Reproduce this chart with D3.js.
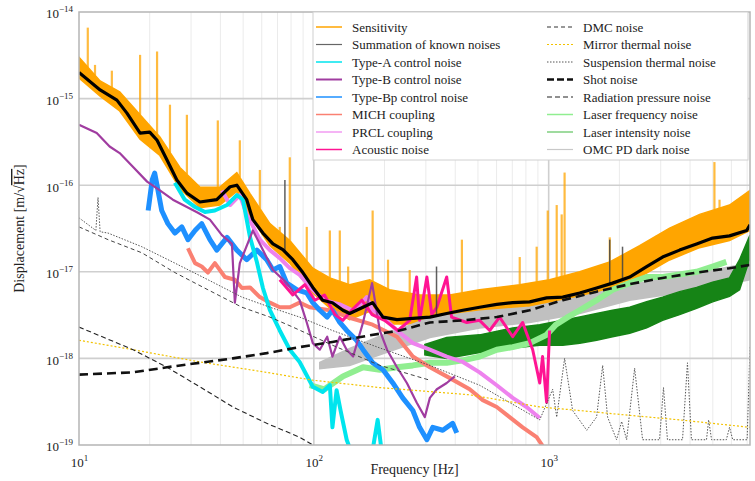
<!DOCTYPE html>
<html>
<head>
<meta charset="utf-8">
<title>displacement noise budget</title>
<script src="https://d3js.org/d3.v7.min.js"></script>
<style>
  body { margin: 0; background: #fff; }
  text { font-family: "Liberation Serif", "DejaVu Serif", serif; fill: #222; }
</style>
</head>
<body>
<script>
// ---- data: [frequency Hz, displacement m/rtHz] ----
var sensitivityBand = [ // [f, lower edge, upper edge]
  [10, 1.73e-15, 3.0e-15], [12.3, 1.07e-15, 1.6e-15], [14.9, 7.2e-16, 1.2e-15],
  [18.2, 3.4e-16, 6.5e-16], [22.1, 2.2e-16, 3.6e-16], [26.9, 9.1e-17, 1.6e-16],
  [32.7, 5.5e-17, 9.5e-17], [39.8, 5.9e-17, 9.5e-17], [47, 8.5e-17, 1.4e-16],
  [53.5, 4.4e-17, 8.0e-17], [65, 2.0e-17, 3.6e-17], [79, 1.26e-17, 2.3e-17],
  [99, 5.7e-18, 1.1e-17], [117, 3.8e-18, 8.5e-18], [142, 2.8e-18, 7.1e-18],
  [173, 3.5e-18, 8.1e-18], [210, 2.5e-18, 6.2e-18], [282, 2.5e-18, 5.4e-18],
  [379, 2.8e-18, 5.4e-18], [508, 3.3e-18, 6.2e-18], [753, 3.7e-18, 7.1e-18],
  [1009, 4.3e-18, 8.1e-18], [1355, 4.9e-18, 1.0e-17], [1820, 6.5e-18, 1.3e-17],
  [2440, 8.7e-18, 2.0e-17], [3273, 1.37e-17, 3.2e-17], [4394, 1.9e-17, 4.6e-17],
  [5890, 2.3e-17, 5.9e-17], [7200, 3.0e-17, 8.7e-17]
];
var sensitivitySpikes = [
  [10.9, 6.6e-15], [11.7, 2.45e-15], [13.8, 2.1e-15], [18.2, 3.2e-15], [21.5, 3.5e-15],
  [24.4, 8.5e-16], [28.8, 6.5e-16], [39, 5.6e-16], [48.4, 3.3e-16], [58.9, 1.5e-16],
  [71.6, 3.3e-17], [79, 2.1e-16], [93.3, 3.3e-17], [117, 3.0e-17], [129, 3.0e-17],
  [140, 1.15e-17], [178, 5.1e-17], [207, 1.38e-17], [256, 1.05e-17], [427, 2.35e-17],
  [753, 1.48e-17], [889, 1.95e-17], [991, 5.1e-17], [1082, 5.9e-17], [1136, 4.6e-17],
  [1169, 1.4e-16], [1820, 2.5e-17], [2884, 2.35e-17], [5080, 1.85e-16], [5340, 6.8e-17]
];
var summation = [
  [10, 2.0e-15], [12.3, 1.26e-15], [14.5, 9.6e-16], [16, 6.8e-16], [18.2, 4.0e-16],
  [20, 4.1e-16], [21.5, 3.3e-16], [23.7, 1.95e-16], [26.1, 1.15e-16], [28.8, 8.1e-17],
  [32.7, 6.4e-17], [38.6, 6.8e-17], [44, 9.6e-17], [47, 1.0e-16], [51.8, 6.8e-17],
  [55, 4.0e-17], [60.7, 2.8e-17], [67, 2.1e-17], [73.8, 1.8e-17], [81.4, 1.38e-17],
  [89.8, 9.8e-18], [99, 6.6e-18], [109, 4.7e-18], [120, 4.4e-18], [133, 3.6e-18],
  [142, 3.3e-18], [162, 3.9e-18], [178, 4.4e-18], [197, 3.0e-18], [226, 2.8e-18],
  [264, 2.9e-18], [312, 3.0e-18], [368, 3.3e-18], [431, 3.6e-18], [508, 3.9e-18],
  [601, 4.2e-18], [703, 4.4e-18], [830, 4.5e-18], [980, 5.0e-18], [1148, 5.1e-18],
  [1356, 5.7e-18], [1600, 6.5e-18], [1871, 7.4e-18], [2213, 8.7e-18], [2613, 1.15e-17],
  [3055, 1.48e-17], [3610, 1.78e-17], [4265, 2.1e-17], [4990, 2.45e-17], [5890, 2.6e-17],
  [6970, 3.0e-17], [7200, 3.5e-17]
];
var summationSpikes = [[75.3, 1.15e-16], [333, 1.15e-17], [1820, 2.35e-17], [2063, 1.95e-17]];
var typeA = [
  [25.6, 1.07e-16], [28.2, 6.8e-17], [31.2, 5.6e-17], [34.4, 4.9e-17], [37.9, 5.1e-17],
  [42.7, 5.9e-17], [47, 7.7e-17], [49.9, 6.8e-17], [53.5, 2.5e-17], [57.2, 1.3e-17],
  [60.7, 6.5e-18], [65, 3.6e-18], [71.6, 2.1e-18], [79, 1.26e-18], [87, 9.1e-19],
  [99, 4.7e-19], [109, 4.1e-19], [117, 4.9e-19], [120, 1.6e-19], [125, 4.3e-19],
  [130, 2.5e-19], [138, 1.15e-19], [145, 8e-20], [177, 8e-20], [187, 1.95e-19], [195, 8e-20]
];
var typeB = [
  [10, 5.0e-16], [11.9, 4.0e-16], [13.5, 2.8e-16], [14.9, 2.35e-16], [17, 1.62e-16],
  [19.5, 1.1e-16], [22.1, 8.7e-17], [25.1, 6.8e-17], [28.8, 5.6e-17], [32.1, 4.8e-17],
  [36.1, 4.0e-17], [40.6, 2.65e-17], [44.8, 2.1e-17], [46.1, 4.4e-18], [48.4, 1.26e-17],
  [55, 3.0e-17], [60.7, 1.78e-17], [67, 1.05e-17], [76.7, 7.4e-18], [87, 4.7e-18],
  [93.3, 2.6e-18], [99, 1.5e-18], [106, 1.26e-18], [114, 1.78e-18], [120, 1.05e-18],
  [129, 1.78e-18], [138, 1.26e-18], [147, 1.05e-18], [162, 2.6e-18], [177, 7.4e-18],
  [191, 2.1e-18], [205, 1.26e-18], [226, 7.9e-19], [249, 5.2e-19], [274, 3.1e-19],
  [297, 2.1e-19], [312, 3.5e-19], [334, 4.4e-19], [368, 5.2e-19], [398, 6.2e-19]
];
var typeBp = [
  [19.7, 5.1e-17], [20.5, 1.15e-16], [21, 1.38e-16], [21.7, 8.7e-17], [22.5, 5.1e-17],
  [23.9, 3.6e-17], [25.6, 2.8e-17], [27.4, 3.3e-17], [29.1, 2.35e-17], [31.2, 3.0e-17],
  [33.3, 3.6e-17], [36.1, 2.35e-17], [38.6, 1.78e-17], [42.7, 2.5e-17], [47, 1.78e-17],
  [51.8, 1.38e-17], [57.2, 1.78e-17], [63, 1.38e-17], [67, 1.05e-17], [71.6, 1.15e-17],
  [76.7, 7.4e-18], [84.8, 6.2e-18], [93.3, 5.7e-18], [99, 4.4e-18], [106, 3.6e-18],
  [114, 3.0e-18], [120, 3.6e-18], [129, 2.6e-18], [138, 2.1e-18], [152, 1.62e-18],
  [162, 1.26e-18], [178, 8.9e-19], [197, 7.4e-19], [217, 5.2e-19], [239, 3.5e-19],
  [264, 2.5e-19], [282, 1.6e-19], [303, 1.15e-19], [321, 1.6e-19], [354, 1.48e-19],
  [390, 1.78e-19], [406, 1.38e-19]
];
var mich = [
  [29.1, 1.87e-17], [31.2, 1.26e-17], [33.3, 1.15e-17], [35.4, 9.8e-18], [37.9, 1.26e-17],
  [41.8, 8.7e-18], [46.1, 8.1e-18], [49.4, 6.5e-18], [53.5, 6.6e-18], [58.9, 5.1e-18],
  [65, 4.4e-18], [71.6, 3.9e-18], [79, 3.9e-18], [87, 4.4e-18], [96, 3.9e-18],
  [117, 3.6e-18], [142, 2.95e-18], [178, 2.45e-18], [226, 1.78e-18], [264, 1.05e-18],
  [312, 7.9e-19], [368, 6.2e-19], [461, 4.4e-19], [524, 3.3e-19], [601, 2.75e-19],
  [682, 2.1e-19], [775, 1.6e-19], [889, 1.23e-19], [962, 9e-20]
];
var prcl = [
  [40.6, 8.7e-17], [44, 5.9e-17], [48.4, 7.7e-17], [51.8, 4.6e-17], [58.9, 2.35e-17],
  [65, 1.78e-17], [71.6, 1.44e-17], [79, 1.1e-17], [87, 9.2e-18], [99, 6.2e-18],
  [111, 4.7e-18], [129, 4.2e-18], [149, 3.5e-18], [168, 5.1e-18], [178, 3.6e-18],
  [197, 3.0e-18], [226, 2.1e-18], [264, 1.5e-18], [312, 1.26e-18], [368, 1.05e-18],
  [431, 9.1e-19], [508, 6.9e-19], [601, 4.9e-19], [703, 3.5e-19], [805, 2.75e-19],
  [916, 2.05e-19]
];
var acoustic = [
  [71.6, 8.1e-18], [81.4, 5.4e-18], [91.6, 7.1e-18], [101, 4.7e-18], [111, 5.4e-18],
  [123, 3.2e-18], [133, 2.75e-18], [145, 3.6e-18], [160, 4.7e-18], [177, 3.2e-18],
  [200, 2.75e-18], [228, 2.1e-18], [256, 2.75e-18], [274, 8.7e-18], [282, 2.75e-18],
  [303, 8.7e-18], [318, 3.2e-18], [334, 3.9e-18], [368, 8.7e-18], [386, 3.0e-18],
  [448, 2.6e-18], [508, 2.75e-18], [561, 2.1e-18], [618, 3.0e-18], [703, 1.78e-18],
  [775, 2.6e-18], [855, 1.26e-18], [916, 5.2e-19], [942, 1.05e-18], [980, 3.1e-19],
  [1009, 2.1e-18]
];
var dmcNoise = [
  [10, 3.3e-17], [13.3, 2.35e-17], [18.5, 1.66e-17], [25.6, 9.8e-18], [35.4, 6.2e-18],
  [49.4, 3.9e-18], [65, 3.0e-18], [81.4, 2.3e-18], [120, 1.42e-18], [191, 8.3e-19],
  [312, 5.6e-19]
];
var mirrorThermal = [
  [10, 1.62e-18], [17, 1.26e-18], [32.7, 9.1e-19], [63, 6.9e-19], [99, 5.6e-19],
  [191, 4.6e-19], [461, 3.8e-19], [916, 2.75e-19], [1356, 2.5e-19], [2213, 2.2e-19],
  [3610, 1.95e-19], [7200, 1.6e-19]
];
var suspensionThermal = [
  [10, 4.2e-17], [11.8, 3.0e-17], [12.05, 7.2e-17], [12.3, 2.9e-17], [13.3, 2.8e-17],
  [18.5, 1.95e-17], [25.6, 1.26e-17], [35.4, 8.1e-18], [49.4, 5.1e-18], [65, 3.9e-18],
  [87, 3.0e-18], [120, 2.1e-18], [191, 1.32e-18], [312, 8.3e-19], [508, 4.9e-19],
  [916, 1.95e-19], [1040, 4.4e-19], [1082, 2.1e-19], [1169, 1.0e-18], [1265, 2.5e-19],
  [1452, 1.48e-19], [1600, 2.1e-19], [1698, 8.3e-19], [1782, 2.1e-19], [1946, 1.15e-19],
  [2046, 1.87e-19], [2148, 1.15e-19], [2323, 7.7e-19], [2512, 1.15e-19], [2965, 1.15e-19],
  [3083, 4.6e-19], [3205, 1.15e-19], [3715, 1.15e-19], [3900, 8.9e-19], [4055, 1.15e-19],
  [4700, 1.15e-19], [4800, 1.95e-19], [4940, 1.15e-19], [5710, 1.15e-19], [5890, 1.6e-19],
  [6080, 1.15e-19], [7000, 1.15e-19], [7200, 1.35e-18]
];
var shotNoise = [
  [10, 6.5e-19], [17, 6.9e-19], [23.7, 7.9e-19], [32.7, 8.9e-19], [45.2, 1.0e-18],
  [63, 1.15e-18], [87, 1.35e-18], [120, 1.55e-18], [168, 1.82e-18], [232, 2.1e-18],
  [312, 2.6e-18], [431, 2.75e-18], [601, 3.0e-18], [830, 3.6e-18], [1148, 4.7e-18],
  [1600, 5.9e-18], [2213, 7.2e-18], [3055, 8.5e-18], [4265, 9.8e-18], [5890, 1.1e-17],
  [7200, 1.2e-17]
];
var radiationPressure = [
  [10, 2.3e-18], [17, 1.26e-18], [23.7, 7.9e-19], [32.7, 4.7e-19], [45.2, 2.75e-19],
  [63, 1.78e-19], [87, 1.23e-19], [99, 1.0e-19], [117, 7.5e-20]
];
var laserFrequency = [
  [96, 4.9e-19], [111, 4.4e-19], [133, 6.2e-19], [162, 7.9e-19], [191, 7.4e-19],
  [226, 7.9e-19], [264, 8.3e-19], [312, 8.9e-19], [368, 8.9e-19], [431, 9.5e-19],
  [508, 1.05e-18], [601, 1.26e-18], [703, 1.35e-18], [830, 1.5e-18], [980, 1.87e-18],
  [1072, 2.45e-18], [1195, 2.95e-18], [1356, 3.6e-18], [1600, 4.7e-18], [1871, 6.2e-18],
  [2213, 7.4e-18], [2613, 8.7e-18], [3055, 8.7e-18], [3610, 9.3e-18], [4265, 1.0e-17],
  [4990, 1.15e-17], [5710, 1.3e-17]
];
var laserIntensityBand = [
  [297, 1.1e-18, 1.45e-18], [368, 1.0e-18, 1.74e-18], [508, 1.17e-18, 1.87e-18],
  [703, 1.32e-18, 2.25e-18], [916, 1.42e-18, 2.45e-18], [1148, 1.42e-18, 2.75e-18],
  [1356, 1.5e-18, 3.0e-18], [1600, 1.62e-18, 3.3e-18], [1871, 1.78e-18, 3.6e-18],
  [2213, 1.95e-18, 3.9e-18], [2613, 2.25e-18, 4.5e-18], [3055, 2.75e-18, 5.1e-18],
  [3610, 3.2e-18, 5.9e-18], [4265, 3.8e-18, 6.6e-18], [4990, 4.5e-18, 7.6e-18],
  [5890, 5.2e-18, 8.5e-18], [6500, 6.2e-18, 1.38e-17], [7200, 1.44e-17, 2.65e-17]
];
var omcDarkBand = [
  [106, 7.6e-19, 9.0e-19], [142, 8.3e-19, 1.3e-18], [191, 1.1e-18, 1.8e-18],
  [312, 1.74e-18, 2.95e-18], [508, 2.25e-18, 3.5e-18], [830, 2.6e-18, 3.9e-18],
  [1356, 3.3e-18, 5.1e-18], [2213, 4.7e-18, 7.1e-18], [4394, 6.2e-18, 9.8e-18],
  [7200, 8.1e-18, 1.26e-17]
];

var xTicks = [10, 100, 1000];
var yTicks = [1e-19, 1e-18, 1e-17, 1e-16, 1e-15, 1e-14];
var legendLeft = ["Sensitivity", "Summation of known noises", "Type-A control noise",
  "Type-B control noise", "Type-Bp control noise", "MICH coupling", "PRCL coupling", "Acoustic noise"];
var legendRight = ["DMC noise", "Mirror thermal noise", "Suspension thermal noise", "Shot noise",
  "Radiation pressure noise", "Laser frequency noise", "Laser intensity noise", "OMC PD dark noise"];

// ---- layout ----
var width = 755, height = 481;
var plot = {left: 79, right: 750, top: 12, bottom: 445};

var svg = d3.select("body").append("svg")
    .attr("width", width).attr("height", height);

var x = d3.scaleLog().domain([10, 7200]).range([plot.left, plot.right]);
var y = d3.scaleLog().domain([1e-19, 1e-14]).range([plot.bottom, plot.top]);

svg.append("clipPath").attr("id", "clip").append("rect")
    .attr("x", plot.left).attr("y", plot.top)
    .attr("width", plot.right - plot.left).attr("height", plot.bottom - plot.top);

// grid
var grid = svg.append("g");
grid.selectAll(".minor").data(x.ticks().filter(function(t) { return xTicks.indexOf(t) < 0; }))
  .enter().append("line")
    .attr("x1", function(d) { return x(d); }).attr("x2", function(d) { return x(d); })
    .attr("y1", plot.top).attr("y2", plot.bottom)
    .attr("stroke", "#ebebeb").attr("stroke-width", 1);
grid.selectAll(".vmaj").data(xTicks.slice(1)).enter().append("line")
    .attr("x1", function(d) { return x(d); }).attr("x2", function(d) { return x(d); })
    .attr("y1", plot.top).attr("y2", plot.bottom)
    .attr("stroke", "#cfcfcf").attr("stroke-width", 1.6);
grid.selectAll(".hmaj").data(yTicks.slice(1, -1)).enter().append("line")
    .attr("x1", plot.left).attr("x2", plot.right)
    .attr("y1", function(d) { return y(d); }).attr("y2", function(d) { return y(d); })
    .attr("stroke", "#cfcfcf").attr("stroke-width", 1.6);

var canvas = svg.append("g").attr("clip-path", "url(#clip)");

var line = d3.line().x(function(d) { return x(d[0]); }).y(function(d) { return y(d[1]); });
var band = d3.area().x(function(d) { return x(d[0]); })
    .y0(function(d) { return y(d[1]); }).y1(function(d) { return y(d[2]); });

function drawLine(data, color, w, dash, opacity) {
  canvas.append("path").datum(data).attr("d", line)
    .attr("fill", "none").attr("stroke", color).attr("stroke-width", w)
    .attr("stroke-dasharray", dash || null).attr("stroke-linejoin", "round")
    .attr("opacity", opacity || 1);
}
function drawBand(data, color) {
  canvas.append("path").datum(data).attr("d", band)
    .attr("fill", color).attr("stroke", color).attr("stroke-width", 1.5);
}
// log-log lookup of a curve value, used only to anchor the foot of a spike
function valueAt(data, f, k) {
  var i = d3.bisector(function(d) { return d[0]; }).left(data, f);
  i = Math.max(1, Math.min(data.length - 1, i));
  var a = data[i - 1], b = data[i];
  var t = (Math.log(f) - Math.log(a[0])) / (Math.log(b[0]) - Math.log(a[0]));
  return Math.exp(Math.log(a[k]) + t * (Math.log(b[k]) - Math.log(a[k])));
}
function drawSpikes(spikes, base, k, color, w, opacity) {
  canvas.selectAll(null).data(spikes).enter().append("line")
    .attr("x1", function(d) { return x(d[0]); }).attr("x2", function(d) { return x(d[0]); })
    .attr("y1", function(d) { return y(valueAt(base, d[0], k)); })
    .attr("y2", function(d) { return y(d[1]); })
    .attr("stroke", color).attr("stroke-width", w).attr("opacity", opacity);
}

// traces, back to front
drawSpikes(sensitivitySpikes, sensitivityBand, 2, "#FFA500", 2.2, 0.75);
drawBand(sensitivityBand, "#FFA500");
drawBand(omcDarkBand, "#C0C0C0");
drawBand(laserIntensityBand, "#168416");
drawLine(laserFrequency, "#90EE90", 6);
drawLine(mich, "#FA8072", 4);
drawLine(prcl, "#EE82EE", 4);
drawLine(typeBp, "#1E90FF", 5);
drawLine(typeA, "#00E5EE", 4);
drawLine(typeB, "#A03CA0", 2.2);
drawLine(acoustic, "#FF1493", 3);
drawLine(dmcNoise, "#444", 1, "4,3");
drawLine(suspensionThermal, "#555", 1, "1.5,1.5");
drawLine(mirrorThermal, "#F2C200", 1.2, "2,2");
drawLine(radiationPressure, "#222", 1.1, "5,3");
drawLine(shotNoise, "#111", 2.6, "9,5");
drawSpikes(summationSpikes, summation, 1, "#444", 1.5, 0.85);
drawLine(summation, "#000", 3.2);

// frame
svg.append("rect").attr("x", plot.left).attr("y", plot.top)
  .attr("width", plot.right - plot.left).attr("height", plot.bottom - plot.top)
  .attr("fill", "none").attr("stroke", "#b5b5b5").attr("stroke-width", 1.5);

// axes (labels as 10^n)
function powLabel(sel, exp) {
  sel.text("10");
  sel.append("tspan").attr("dy", -6).attr("font-size", 9).text(exp < 0 ? "\u2212" + (-exp) : exp);
}
var xAxis = svg.append("g").attr("transform", "translate(0," + plot.bottom + ")")
  .call(d3.axisBottom(x).tickValues(xTicks).tickSize(0).tickPadding(13).tickFormat(""));
xAxis.select(".domain").remove();
xAxis.selectAll(".tick text").attr("font-size", 13).attr("font-family", "Liberation Serif")
  .each(function(d) { powLabel(d3.select(this), Math.round(Math.log10(d))); });

var yAxis = svg.append("g").attr("transform", "translate(" + plot.left + ",0)")
  .call(d3.axisLeft(y).tickValues(yTicks).tickSize(0).tickPadding(6).tickFormat(""));
yAxis.select(".domain").remove();
yAxis.selectAll(".tick text").attr("font-size", 13).attr("font-family", "Liberation Serif")
  .attr("dy", "0.45em")
  .each(function(d) { powLabel(d3.select(this), Math.round(Math.log10(d))); });

svg.append("text").attr("x", (plot.left + plot.right) / 2).attr("y", 474)
  .attr("text-anchor", "middle").attr("font-size", 14).text("Frequency [Hz]");
var yl = svg.append("text").attr("transform", "translate(24," + ((plot.top + plot.bottom) / 2) + ") rotate(-90)")
  .attr("text-anchor", "middle").attr("font-size", 14);
yl.append("tspan").text("Displacement [m/\u221A");
yl.append("tspan").style("text-decoration", "overline").text("Hz");
yl.append("tspan").text("]");

// legend
var legendStyles = {
  "Sensitivity": ["#FFA500", 1.5, null],
  "Summation of known noises": ["#666", 1.2, null],
  "Type-A control noise": ["#00E5EE", 1.5, null],
  "Type-B control noise": ["#A03CA0", 2, null],
  "Type-Bp control noise": ["#1E90FF", 1.5, null],
  "MICH coupling": ["#FA8072", 1.5, null],
  "PRCL coupling": ["#EE82EE", 1.2, null],
  "Acoustic noise": ["#FF1493", 1.5, null],
  "DMC noise": ["#333", 1.2, "4,3"],
  "Mirror thermal noise": ["#F2C200", 1.2, "2,2"],
  "Suspension thermal noise": ["#555", 1, "1.5,1.5"],
  "Shot noise": ["#111", 2.6, "7,3"],
  "Radiation pressure noise": ["#222", 1.1, "5,3"],
  "Laser frequency noise": ["#90EE90", 1.5, null],
  "Laser intensity noise": ["#7fcf7f", 1.5, null],
  "OMC PD dark noise": ["#C8C8C8", 1.2, null]
};
var legend = svg.append("g");
legend.append("rect").attr("x", 313).attr("y", 12).attr("width", 435).attr("height", 148)
  .attr("fill", "#fff").attr("stroke", "#d0d0d0").attr("stroke-width", 1);
[[legendLeft, 316], [legendRight, 547]].forEach(function(col) {
  var g = legend.selectAll(null).data(col[0]).enter().append("g")
    .attr("transform", function(d, i) { return "translate(" + col[1] + "," + (27 + i * 17.5) + ")"; });
  g.append("line").attr("x1", 0).attr("x2", 26)
    .attr("stroke", function(d) { return legendStyles[d][0]; })
    .attr("stroke-width", function(d) { return legendStyles[d][1]; })
    .attr("stroke-dasharray", function(d) { return legendStyles[d][2]; });
  g.append("text").attr("x", 36).attr("dy", "0.35em").attr("font-size", 13)
    .text(function(d) { return d; });
});
</script>
</body>
</html>
